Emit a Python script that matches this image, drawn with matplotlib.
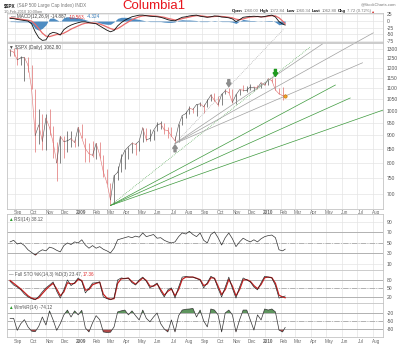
import numpy as np
import pandas as pd
import matplotlib
matplotlib.use('Agg')
import matplotlib.pyplot as plt
import matplotlib.ticker as ticker

# weekly samples (last one is the 10-Feb-2010 bar)
dates = list(pd.date_range('2008-08-22', periods=77, freq='7D')) + [pd.Timestamp('2010-02-10')]

price_high = [1300, 1304, 1304, 1263, 1256, 1255, 1214, 1098, 1006, 985, 985, 1007, 936, 875, 896, 896,
              918, 918, 887, 934, 943, 890, 871, 877, 870, 875, 827, 780, 735, 758, 788, 832, 845, 857,
              876, 870, 880, 930, 930, 925, 920, 951, 956, 947, 934, 931, 898, 943, 979, 996, 1018, 1013,
              1027, 1039, 1028, 1049, 1074, 1080, 1065, 1076, 1096, 1101, 1096, 1071, 1097, 1113, 1112,
              1119, 1108, 1117, 1127, 1130, 1145, 1150, 1150, 1103, 1104, 1072]
price_low = [1261, 1263, 1217, 1212, 1133, 1180, 1098, 839, 866, 845, 845, 899, 818, 741, 801, 815,
             837, 857, 857, 858, 888, 804, 804, 821, 814, 818, 754, 730, 667, 672, 742, 768, 779, 814,
             836, 826, 841, 875, 878, 878, 881, 916, 926, 904, 888, 896, 869, 875, 940, 969, 987, 990,
             979, 1018, 991, 1016, 1040, 1040, 1020, 1025, 1071, 1076, 1033, 1029, 1068, 1086, 1083,
             1091, 1086, 1095, 1102, 1114, 1115, 1131, 1090, 1071, 1044, 1060]
price_close = [1292, 1283, 1242, 1252, 1255, 1213, 1099, 899, 940, 877, 968, 930, 873, 800, 896, 876,
               879, 887, 873, 931, 890, 850, 832, 826, 869, 827, 770, 735, 683, 757, 768, 816, 843, 857,
               869, 866, 878, 929, 883, 887, 919, 940, 946, 921, 918, 896, 879, 940, 979, 987, 1010, 1005,
               1026, 1029, 1016, 1042, 1068, 1044, 1025, 1071, 1087, 1080, 1036, 1069, 1093, 1091, 1091,
               1106, 1106, 1102, 1126, 1115, 1145, 1136, 1092, 1074, 1066, 1062.8]

macd = [10, 9, 6, 4, 2, 0, -10, -40, -62, -72, -70, -48, -42, -45, -52, -32, -22, -15, -10, -6, -3, -3,
        -6, -8, -10, -18, -26, -34, -40, -35, -18, -6, 3, 10, 16, 19, 22, 22, 20, 18, 17, 16, 14, 10, 5,
        2, 1, 8, 14, 16, 19, 21, 22, 18, 16, 14, 16, 19, 18, 15, 14, 12, 8, -2, 5, 14, 16, 17, 18, 17,
        15, 17, 20, 22, 15, -2, -11, -14.887]
macd_signal = [12, 11, 9, 7, 5, 3, 0, -12, -28, -45, -56, -58, -54, -50, -50, -45, -38, -30, -24, -18,
               -12, -8, -7, -7, -8, -11, -16, -22, -28, -32, -28, -20, -11, -3, 5, 11, 16, 19, 20, 20, 19,
               18, 16, 14, 10, 7, 4, 5, 9, 12, 15, 18, 20, 20, 18, 16, 16, 17, 18, 17, 16, 14, 12, 7, 5, 8,
               12, 15, 16, 17, 16, 16, 18, 20, 19, 12, 0, -10.563]

rsi = [52, 55, 48, 50, 45, 37, 32, 27, 33, 37, 35, 42, 40, 36, 33, 45, 50, 47, 52, 50, 56, 46, 40, 45,
       40, 43, 38, 35, 31, 40, 56, 58, 60, 62, 60, 63, 61, 69, 62, 64, 66, 59, 60, 55, 52, 50, 52, 62,
       69, 67, 72, 66, 62, 69, 55, 50, 66, 71, 60, 46, 60, 69, 58, 43, 52, 59, 55, 52, 56, 52, 58, 62,
       64, 65, 60, 37, 35, 38.12]

sto_k = [75, 62, 55, 45, 30, 20, 14, 10, 22, 38, 52, 62, 73, 40, 16, 45, 80, 60, 70, 87, 75, 34, 50, 69,
         70, 73, 20, 14, 10, 16, 80, 87, 85, 87, 70, 62, 80, 90, 75, 52, 60, 69, 40, 20, 45, 52, 16, 55,
         90, 92, 90, 90, 85, 80, 52, 70, 93, 85, 50, 20, 55, 90, 50, 16, 55, 87, 80, 73, 55, 45, 70, 93,
         90, 87, 60, 16, 20, 23.47]
sto_d = [78, 68, 58, 48, 36, 24, 16, 12, 17, 32, 46, 58, 68, 48, 24, 38, 70, 66, 68, 82, 78, 44, 46, 63,
         68, 72, 30, 16, 12, 14, 68, 84, 85, 86, 74, 65, 76, 87, 78, 58, 58, 66, 46, 26, 40, 48, 24, 46,
         82, 90, 90, 90, 86, 81, 60, 66, 88, 86, 58, 28, 46, 82, 58, 24, 46, 80, 81, 75, 60, 49, 64, 88,
         90, 88, 68, 26, 20, 17.36]

willr = [-40, -40, -85, -60, -45, -72, -88, -90, -70, -35, -65, -12, -46, -85, -60, -27, -9, -35, -12,
         -27, -10, -76, -91, -57, -30, -45, -91, -93, -92, -72, -16, -12, -9, -27, -12, -30, -46, -9, -40,
         -53, -35, -20, -60, -80, -91, -46, -91, -30, -9, -6, -5, -3, -35, -9, -50, -72, -5, -9, -27, -91,
         -20, -9, -27, -91, -46, -9, -9, -46, -84, -27, -46, -5, -9, -5, -16, -84, -91, -74.12]

# hand-drawn trendlines: anchors at the Mar-09 and Jul-09 lows, ends
green_end_dates = ['2010-03-31', '2010-05-19', '2010-06-17', '2010-08-20']
green_end_prices = [1312, 1115, 1055, 1002]
green_styles = [':', '-', '-', '-']
grey_end_dates = ['2010-02-07', '2010-04-24', '2010-08-01', '2010-07-11']
grey_end_prices = [1415, 1329, 1393, 1226]
grey_styles = [':', '-', '-', '-']

price_ticks = [700, 750, 800, 850, 900, 950, 1000, 1050, 1100, 1150, 1200, 1250, 1300]
month_starts = pd.date_range('2008-09-01', '2010-08-01', freq='MS')
month_labels = [str(d.year) if d.month == 1 else d.strftime('%b') for d in month_starts]

W, H = 400, 345
FONT = 'Liberation Sans'
plt.rcParams['font.family'] = [FONT, 'DejaVu Sans']
fig = plt.figure(figsize=(W / 100, H / 100), dpi=100)


def panel(y0, y1):
    return fig.add_axes([7 / W, 1 - y1 / H, 376 / W, (y1 - y0) / H])


def style(ax, yticks, xlabels=False, pad=1.0):
    ax.set_xlim(pd.Timestamp('2008-08-16'), pd.Timestamp('2010-08-20'))
    ax.set_xticks(month_starts, minor=True)
    ax.set_xticks(month_starts + pd.Timedelta(days=6))
    if xlabels:
        ax.set_xticklabels(month_labels)
        for lab in ax.get_xticklabels():
            if lab.get_text().isdigit():
                lab.set_fontweight('bold')
                lab.set_color('#333333')
    else:
        ax.set_xticklabels([])
    ax.grid(which='minor', axis='x', color='#e4e4e4', lw=0.5)
    ax.yaxis.tick_right()
    ax.yaxis.set_major_locator(ticker.FixedLocator(yticks))
    ax.yaxis.set_minor_locator(ticker.NullLocator())
    ax.yaxis.set_major_formatter(ticker.FuncFormatter(lambda v, p: f'{v:.0f}'))
    ax.grid(which='major', axis='y', color='#e4e4e4', lw=0.5)
    ax.tick_params(axis='x', which='both', length=0, labelsize=3.3, labelcolor='#666666', pad=pad)
    ax.tick_params(axis='y', length=0, labelsize=3.6, labelcolor='#555555', pad=2.5)
    for s in ax.spines.values():
        s.set_color('#c4c4c4')
        s.set_linewidth(0.6)
    ax.set_axisbelow(True)


def chain(ax, x, y, parts, size, transform):
    t = ax.text(x, y, parts[0][0], color=parts[0][1], fontweight=parts[0][2], fontsize=size,
                va='bottom', transform=transform)
    for s, c, w in parts[1:]:
        t = ax.annotate(s, xy=(1, 0), xycoords=t, xytext=(0.8, 0), textcoords='offset points',
                        color=c, fontweight=w, fontsize=size, va='bottom')
    return t


# --- MACD panel ---
ax_macd = panel(13, 42)
hist = np.array(macd) - np.array(macd_signal)
ax_macd.fill_between(dates, hist, 0, color='#2f78b8', alpha=0.85, lw=0)
ax_macd.plot(dates, macd_signal, color='#e86a6a', lw=0.9)
ax_macd.plot(dates, macd, color='#111111', lw=0.6)
ax_macd.set_ylim(-78, 30)
style(ax_macd, [25, 0, -25, -50, -75])
chain(ax_macd, 0.01, 0.78, [('— MACD(12,26,9) -14.887,', '#444444', 'normal'),
                            ('-10.563,', '#e03030', 'normal'),
                            ('-4.324', '#2f78b8', 'normal')], 3.3, ax_macd.transAxes)

# --- price panel ---
ax_px = panel(43, 209)
ax_px.set_yscale('log')
ax_px.set_ylim(657, 1334)
style(ax_px, price_ticks, xlabels=True, pad=0.6)
bar_colors = ['#505050'] + ['#505050' if price_close[i] >= price_close[i - 1] else '#e07070'
                            for i in range(1, len(price_close))]
ax_px.vlines(dates, price_low, price_high, colors=bar_colors, lw=0.5)
for i in range(1, len(dates)):
    ax_px.plot(dates[i - 1:i + 1], price_close[i - 1:i + 1], color=bar_colors[i], lw=0.4)

lo_mar, lo_jul = 28, 46
for d, p, ls in zip(green_end_dates, green_end_prices, green_styles):
    ax_px.plot([dates[lo_mar], pd.Timestamp(d)], [price_low[lo_mar], p], ls, color='#3d9a3d',
               lw=0.5, clip_on=False)
for d, p, ls in zip(grey_end_dates, grey_end_prices, grey_styles):
    ax_px.plot([dates[lo_jul], pd.Timestamp(d)], [price_low[lo_jul], p], ls, color='#a0a0a0',
               lw=0.5, clip_on=False)

arrow = 'simple,head_length=0.7,head_width=0.9,tail_width=0.4'
for idx, vals, dy, col in [(61, price_high, 6, '#8c8c8c'), (74, price_high, 6, '#1f9a1f'),
                           (lo_jul, price_low, -6, '#8c8c8c')]:
    ax_px.annotate('', xy=(dates[idx], vals[idx]), xytext=(0, dy), textcoords='offset points',
                   arrowprops=dict(arrowstyle=arrow, color=col, shrinkA=0, shrinkB=1.0,
                                   mutation_scale=3.6))
ax_px.plot(dates[-1:], price_close[-1:], 'o', ms=2.4, color='#f2a22a', mec='#b86e00', mew=0.4)
ax_px.text(0.004, 0.985, '▼ $SPX (Daily) 1062.80', transform=ax_px.transAxes, fontsize=3.4,
           color='#444444', va='top')

# --- RSI panel ---
ax_rsi = panel(214, 270)
ax_rsi.set_ylim(-1.4, 105)
style(ax_rsi, [90, 70, 50, 30, 10])
for lvl, ls in [(70, '-'), (30, '-'), (50, '-.')]:
    ax_rsi.axhline(lvl, color='#a8a8a8', lw=0.6, ls=ls)
r = np.array(rsi)
ax_rsi.fill_between(dates, r, 70, where=r > 70, interpolate=True, color='#5e955e', lw=0)
ax_rsi.fill_between(dates, r, 30, where=r < 30, interpolate=True, color='#b04848', lw=0)
ax_rsi.plot(dates, rsi, color='#333333', lw=0.5)
chain(ax_rsi, 0.004, 0.86, [('▲', '#2a9a2a', 'normal'), ('RSI(14) 38.12', '#555555', 'normal')],
      3.3, ax_rsi.transAxes)

# --- slow stochastic panel ---
ax_sto = panel(270, 303)
ax_sto.set_ylim(-1.3, 115)
style(ax_sto, [80, 50, 20])
for lvl, ls in [(80, '-'), (20, '-'), (50, '-.')]:
    ax_sto.axhline(lvl, color='#a8a8a8', lw=0.6, ls=ls)
ax_sto.plot(dates, sto_d, color='#c81e1e', lw=0.9)
ax_sto.plot(dates, sto_k, color='#222222', lw=0.45)
chain(ax_sto, 0.004, 0.78, [('— Full STO %K(14,3) %D(3) 23.47,', '#555555', 'normal'),
                            ('17.36', '#e03030', 'normal')], 3.3, ax_sto.transAxes)

# --- Williams %R panel ---
ax_wr = panel(303, 337)
ax_wr.set_ylim(-110, 17.5)
style(ax_wr, [-20, -50, -80], xlabels=True, pad=1.6)
for lvl, ls in [(-20, '-'), (-80, '-'), (-50, '-.')]:
    ax_wr.axhline(lvl, color='#a8a8a8', lw=0.6, ls=ls)
w = np.array(willr)
ax_wr.fill_between(dates, w, -20, where=w > -20, interpolate=True, color='#5e955e', lw=0)
ax_wr.fill_between(dates, w, -80, where=w < -80, interpolate=True, color='#b04848', lw=0)
ax_wr.plot(dates, willr, color='#333333', lw=0.5)
chain(ax_wr, 0.004, 0.80, [('▲', '#2a9a2a', 'normal'), ('Wm%R(14) -74.12', '#555555', 'normal')],
      3.3, ax_wr.transAxes)

# --- header ---
bg = fig.add_axes([0, 0, 1, 1])
bg.axis('off')
bg.set_zorder(-1)
chain(bg, 4 / W, 1 - 8 / H, [('$SPX', '#111111', 'bold'),
                             ('(S&P 500 Large Cap Index) INDX', '#777777', 'normal')], 3.3, fig.transFigure)
fig.text(4 / W, 1 - 14 / H, '10-Feb-2010 10:00am', fontsize=2.8, color='#777777', va='bottom')
fig.text(154 / W, 1 - 6 / H, 'Columbia1', fontsize=9.5, color='#e8141c', ha='center', va='center')
fig.text(396 / W, 1 - 6 / H, '@StockCharts.com', fontsize=3.0, color='#777777', ha='right', va='bottom')
chain(bg, 232 / W, 1 - 13 / H, [('Open', '#111111', 'bold'), ('1060.00', '#777777', 'normal'),
                                ('High', '#111111', 'bold'), ('1072.84', '#777777', 'normal'),
                                ('Low', '#111111', 'bold'), ('1060.34', '#777777', 'normal'),
                                ('Last', '#111111', 'bold'), ('1062.80', '#777777', 'normal'),
                                ('Chg', '#111111', 'bold'), ('7.72 (0.72%)', '#777777', 'normal'),
                                ('▴', '#d02020', 'normal')], 3.1, fig.transFigure)

fig.savefig('out.png', dpi=100)
